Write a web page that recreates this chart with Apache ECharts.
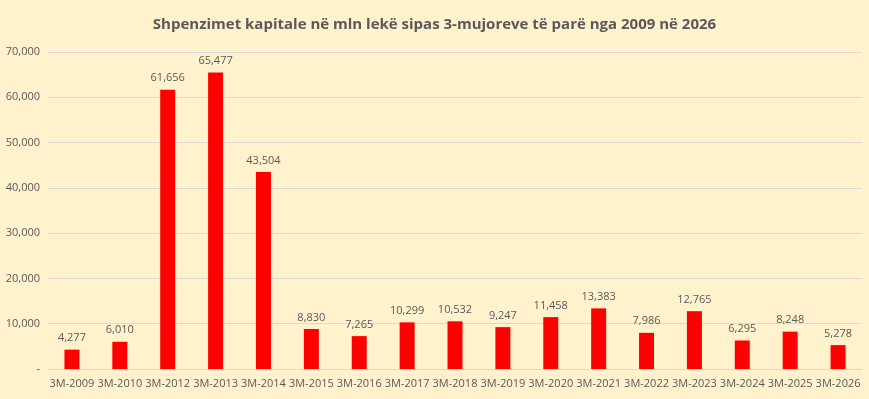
<!DOCTYPE html>
<html>
<head>
<meta charset="utf-8">
<script src="https://cdn.jsdelivr.net/npm/echarts@6/dist/echarts.min.js"></script>
<style>
  html, body { margin: 0; padding: 0; background: #FFF2CC; }
  #chart { width: 869px; height: 399px; }
</style>
</head>
<body>
<div id="chart"></div>
<script>
  // periudhat (3-mujoret e parë)
  const categories = ['3M-2009', '3M-2010', '3M-2012', '3M-2013', '3M-2014', '3M-2015', '3M-2016', '3M-2017', '3M-2018',
    '3M-2019', '3M-2020', '3M-2021', '3M-2022', '3M-2023', '3M-2024', '3M-2025', '3M-2026']
  // shpenzimet kapitale, mln lekë
  const values = [4277, 6010, 61656, 65477, 43504, 8830, 7265, 10299, 10532, 9247, 11458, 13383, 7986, 12765, 6295, 8248, 5278]
  const yTicks = [0, 10000, 20000, 30000, 40000, 50000, 60000, 70000]

  const fmt = v => v === 0 ? '-' : v.toLocaleString('en-US')
  const textColor = '#595959'

  const chart = echarts.init(document.getElementById('chart'))
  const option = {
    backgroundColor: '#FFF2CC',
    animation: false,
    title: {
      text: 'Shpenzimet kapitale në mln lekë sipas 3-mujoreve të parë nga 2009 në 2026',
      left: 'center',
      top: 12,
      textStyle: {
        fontFamily: 'Open Sans',
        fontSize: 15,
        fontWeight: 'bold',
        color: textColor
      }
    },
    grid: {
      left: 48,
      right: 7,
      top: 52,
      bottom: 30
    },
    xAxis: {
      type: 'category',
      data: categories,
      axisLine: { lineStyle: { color: '#D9D9D9' } },
      axisTick: { show: false },
      axisLabel: {
        color: textColor,
        fontFamily: 'Open Sans',
        fontSize: 11,
        interval: 0,
        margin: 9
      }
    },
    yAxis: {
      type: 'value',
      min: yTicks[0],
      max: yTicks[yTicks.length - 1],
      interval: 10000,
      axisLine: { show: false },
      axisTick: { show: false },
      splitLine: { lineStyle: { color: '#D9D9D9', width: 1 } },
      axisLabel: {
        color: textColor,
        fontFamily: 'Open Sans',
        fontSize: 11,
        margin: 8,
        formatter: fmt
      }
    },
    series: [{
      type: 'bar',
      data: values,
      barWidth: 15,
      itemStyle: { color: '#FF0000' },
      label: {
        show: true,
        position: 'top',
        distance: 6,
        color: textColor,
        fontFamily: 'Open Sans',
        fontSize: 11,
        formatter: p => fmt(p.value)
      }
    }]
  }
  chart.setOption(option)
</script>
</body>
</html>
